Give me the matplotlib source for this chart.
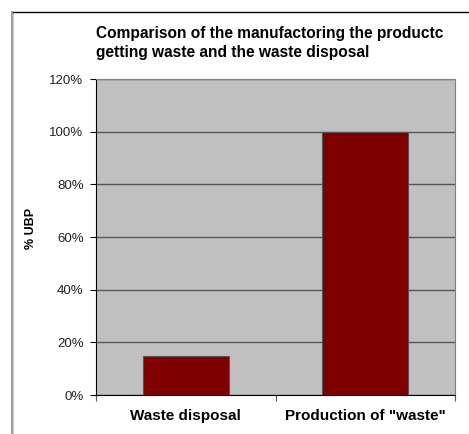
import matplotlib.pyplot as plt
from matplotlib.patches import Rectangle
from matplotlib.ticker import FuncFormatter

plt.rcParams['font.family'] = ['Liberation Sans', 'DejaVu Sans']

categories = ['Waste disposal', 'Production of "waste"']
values = [15, 100]
yticks = [0, 20, 40, 60, 80, 100, 120]

fig = plt.figure(figsize=(4.69, 4.34), dpi=100)
W, H = 469, 434

# outer chart frame (runs off the right and bottom of the picture)
fig.patches.append(Rectangle((12 / W, -0.05), 1.0, 1 - 12 / H + 0.05,
                             transform=fig.transFigure, fill=False,
                             edgecolor='#000000', lw=1.0))
fig.lines.append(plt.Line2D([12 / W, 12 / W], [-0.05, 1 - 12 / H],
                            transform=fig.transFigure, color='#a0a0a0', lw=1.5))

ax = fig.add_axes([96 / W, (H - 395) / H, (455 - 96) / W, (395 - 79) / H])
ax.set_facecolor('#c0c0c0')

x = range(len(categories))
ax.bar(x, values, width=0.48, color='#800000', edgecolor='#555555', lw=0.8, zorder=3)

ax.set_xlim(-0.5, 1.5)
ax.set_ylim(0, 120)
ax.set_yticks(yticks)
ax.yaxis.set_major_formatter(FuncFormatter(lambda v, p: f'{int(v)}%'))
ax.yaxis.grid(True, color='#555555', lw=1.0, zorder=1)

ax.set_xticks([-0.5, 0.5, 1.5])
ax.set_xticklabels([])
ax.set_xticks(list(x), minor=True)
ax.set_xticklabels(categories, minor=True, fontsize=11, fontweight='bold')
ax.tick_params(axis='x', which='minor', length=0, pad=10)
ax.tick_params(axis='x', which='major', length=4, color='#555555')
ax.tick_params(axis='y', length=4, labelsize=9.5, pad=5, color='#000000',
               labelcolor='#222222')

for s in ['top', 'right']:
    ax.spines[s].set_color('#808080')
ax.spines['left'].set_color('#000000')
ax.spines['bottom'].set_color('#000000')

fig.text(31 / W, 1 - 228 / H, '% UBP', rotation=90, ha='center', va='center',
         fontsize=9, fontweight='bold')
fig.text(96 / W, 1 - 26 / H, 'Comparison of the manufactoring the productc\ngetting waste and the waste disposal',
         ha='left', va='top', fontsize=11.2, fontweight='bold', linespacing=1.32)

fig.savefig('out.png', dpi=100)
